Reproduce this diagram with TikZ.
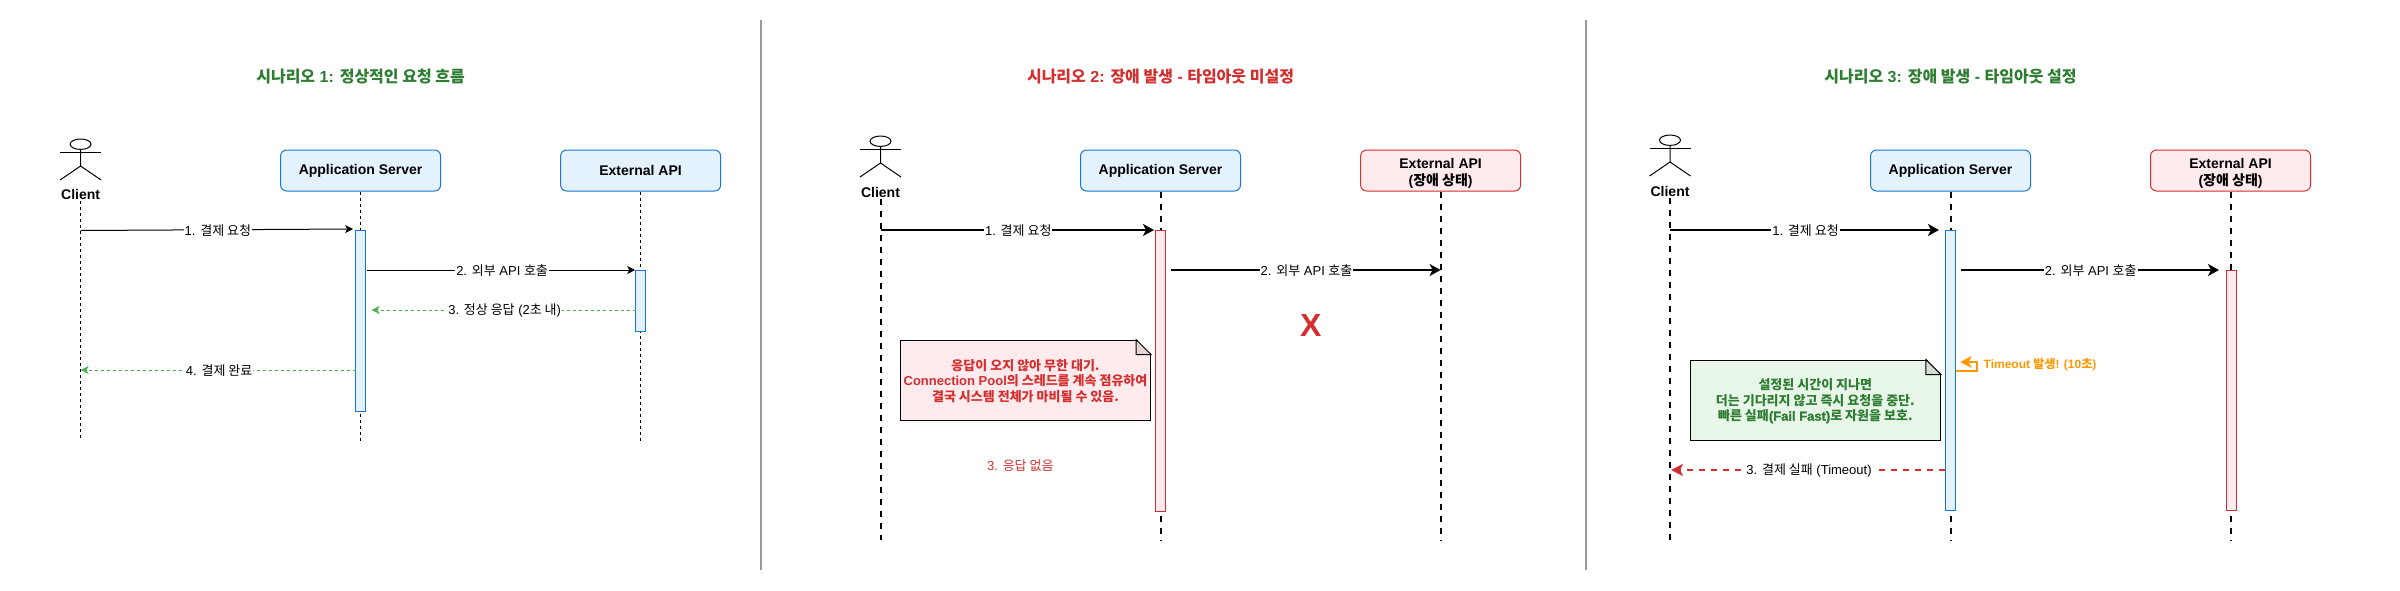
\documentclass[tikz,border=0pt]{standalone}
\usepackage{fontspec}
\usepackage{tikz}
\usetikzlibrary{arrows.meta}
\setmainfont{Liberation Sans}
\newfontfamily\krfont{Noto Sans CJK KR}
\newcommand{\kr}[1]{{\krfont #1}}
\newcommand{\heavy}[1]{{\addfontfeature{FakeBold=1.5}#1}}
\newcommand{\topgap}[1]{\rule{0pt}{#1pt}}
\definecolor{bluefill}{HTML}{E3F2FD}
\definecolor{bluecol}{HTML}{1976D2}
\definecolor{redfill}{HTML}{FFEBEE}
\definecolor{redcol}{HTML}{D32F2F}
\definecolor{greenfill}{HTML}{E8F5E9}
\definecolor{greencol}{HTML}{2E7D32}
\definecolor{okcol}{HTML}{4CAF50}
\definecolor{orangecol}{HTML}{FF9800}
\tikzset{
  pics/actor/.style={code={
    \draw[line width=1pt] (0,5.2) ellipse [x radius=10.5pt, y radius=5.2pt];
    \draw[line width=1pt] (-20.5,13.5) -- (20.5,13.5);
    \draw[line width=1pt] (0,10.4) -- (0,27) (-20.5,41) -- (0,27) -- (20.5,41);
  }},
  pics/fold/.style={code={
    \fill[white] (-15,-1) -- (1,-1) -- (1,15) -- cycle;
    \draw[line width=1pt, fill=#1] (-15,0) -- (0,15) -- (-15,15) -- cycle;
  }}
}
\begin{document}
\begin{tikzpicture}[x=1pt, y=-1pt,
  title/.style={font=\fontsize{16}{19}\selectfont\bfseries, text=#1},
  who/.style={font=\fontsize{14}{17}\selectfont\bfseries, inner sep=2pt},
  party/.style={draw=#1col, fill=#1fill, line width=1pt, rounded corners=6pt,
    minimum width=160pt, minimum height=41pt, align=center, inner sep=0pt,
    font=\fontsize{14}{17}\selectfont\bfseries},
  bar/.style={draw=#1col, fill=#1fill, line width=1pt, minimum width=10pt, inner sep=0pt},
  life/.style={line width=1pt, dash pattern=on 3pt off 3pt},
  lifeb/.style={line width=2pt, dash pattern=on 6pt off 6pt},
  msg/.style={-{Stealth[length=8pt, width=8pt, inset=2pt]}, line width=1pt},
  msgb/.style={-{Stealth[length=11pt, width=12pt, inset=3pt]}, line width=2pt},
  back/.style={-{Stealth[length=8pt, width=8pt, inset=2pt]}, line width=1pt, okcol,
    dash pattern=on 3pt off 3pt},
  fail/.style={-{Stealth[length=12pt, width=12pt, inset=3pt]}, line width=2pt, redcol,
    dash pattern=on 6pt off 6pt},
  lbl/.style={midway, xshift=1pt, yshift=-0.7pt, fill=white, text=black, inner sep=1pt,
    font=\fontsize{13}{15.5}\selectfont},
  notebox/.style={draw=black, fill=#1fill, line width=1pt, minimum width=250pt, minimum height=80pt,
    inner sep=0pt, align=center, text=#1col, font=\fontsize{13}{15.5}\selectfont\bfseries},
  sep/.style={line width=2pt, black!40}]
\useasboundingbox (0,0) rectangle (2400,590);
% separators
\coordinate (s1t) at (761,20);
\coordinate (s1b) at (761,570);
\coordinate (s2t) at (1586,20);
\coordinate (s2b) at (1586,570);
\draw[sep] (s1t) -- (s1b);
\draw[sep] (s2t) -- (s2b);

% scenario 1
\node[title=greencol] (t1) at (360.6,76.5) {\kr{시나리오} 1: \kr{정상적인 요청 흐름}};
\pic at (80.6,139) {actor};
\node[who] (c1) at (80.6,194) {Client};
\node[party=blue] (a1) at (360.6,170.5) {Application Server};
\node[party=blue] (e1) at (640.6,170.5) {External API};
\coordinate (c1e) at (80.6,441);
\coordinate (a1e) at (360.6,441);
\coordinate (e1e) at (640.6,441);
\draw[life] (c1) -- (c1e);
\draw[life] (a1) -- (a1e);
\draw[life] (e1) -- (e1e);
\node[bar=blue, minimum height=181pt] (a1b) at (360.6,320.5) {};
\node[bar=blue, minimum height=61pt] (e1b) at (640.6,300.5) {};
\coordinate (m1a) at (80.6,230.5);
\coordinate (m1b) at (353.2,229);
\coordinate (m2a) at (367,270);
\coordinate (m2b) at (635.2,270);
\coordinate (m3a) at (635.7,310);
\coordinate (m3b) at (371.6,310);
\coordinate (m4a) at (355.7,370);
\coordinate (m4b) at (80.6,370);
\draw[msg] (m1a) -- (m1b) node[lbl] {1. \kr{결제 요청}};
\draw[msg] (m2a) -- (m2b) node[lbl] {2. \kr{외부} API \kr{호출}};
\draw[back] (m3a) -- (m3b) node[lbl] {3. \kr{정상 응답} (2\kr{초 내})};
\draw[back] (m4a) -- (m4b) node[lbl] {4. \kr{결제 완료}};

% scenario 2
\node[title=redcol] (t2) at (1160.5,76.5) {\kr{시나리오} 2: \kr{장애 발생} - \kr{타임아웃 미설정}};
\pic at (880.5,136) {actor};
\node[who] (c2) at (880.5,192) {Client};
\node[party=blue] (a2) at (1160.5,170.5) {Application Server};
\node[party=red] (e2) at (1440.6,170.5) {\topgap{16}External API\\(\kr{장애 상태})};
\coordinate (c2e) at (880.5,540);
\coordinate (a2e) at (1160.5,540);
\coordinate (e2e) at (1440.6,540);
\draw[lifeb] (c2) -- (c2e);
\draw[lifeb] (a2) -- (a2e);
\draw[lifeb] (e2) -- (e2e);
\node[bar=red, minimum height=281pt] (a2b) at (1160.5,370.5) {};
\coordinate (n1a) at (880.5,230);
\coordinate (n1b) at (1154,230);
\coordinate (n2a) at (1170.5,270);
\coordinate (n2b) at (1440.6,270);
\draw[msgb] (n1a) -- (n1b) node[lbl] {1. \kr{결제 요청}};
\draw[msgb] (n2a) -- (n2b) node[lbl] {2. \kr{외부} API \kr{호출}};
\node[text=redcol, font=\fontsize{32}{38}\selectfont\bfseries] (x2) at (1310.8,325) {X};
\node[notebox=red] (n2) at (1025.5,380) {\topgap{13}\kr{응답이 오지 않아 무한 대기.}\\
  Connection Pool\kr{의 스레드를 계속 점유하여}\\
  \kr{결국 시스템 전체가 마비될 수 있음.}};
\pic at (n2.north east) {fold=redfill!90!black};
\node[text=redcol, font=\fontsize{13}{15.5}\selectfont] (r2) at (1020.3,466) {3. \kr{응답 없음}};

% scenario 3
\node[title=greencol] (t3) at (1950.5,76.5) {\kr{시나리오} 3: \kr{장애 발생} - \kr{타임아웃 설정}};
\pic at (1670,135) {actor};
\node[who] (c3) at (1670,191) {Client};
\node[party=blue] (a3) at (1950.5,170.5) {Application Server};
\node[party=red] (e3) at (2230.5,170.5) {\topgap{16}External API\\(\kr{장애 상태})};
\coordinate (c3e) at (1670,540);
\coordinate (a3e) at (1950.5,540);
\coordinate (e3e) at (2230.5,540);
\draw[lifeb] (c3) -- (c3e);
\draw[lifeb] (a3) -- (a3e);
\draw[lifeb] (e3) -- (e3e);
\node[bar=blue, minimum height=280pt] (a3b) at (1950.5,370) {};
\node[bar=red, minimum height=240pt] (e3b) at (2231.5,390) {};
\coordinate (k1a) at (1670,230);
\coordinate (k1b) at (1939,230);
\coordinate (k2a) at (1960.5,270);
\coordinate (k2b) at (2219,270);
\coordinate (k3a) at (1945,470);
\coordinate (k3b) at (1671,470);
\draw[msgb] (k1a) -- (k1b) node[lbl] {1. \kr{결제 요청}};
\draw[msgb] (k2a) -- (k2b) node[lbl] {2. \kr{외부} API \kr{호출}};
\draw[fail] (k3a) -- (k3b) node[lbl] {3. \kr{결제 실패} (Timeout)};
\node[notebox=green] (n3) at (1815.3,400) {\topgap{13}\kr{설정된 시간이 지나면}\\
  \kr{더는 기다리지 않고 즉시 요청을 중단.}\\
  {\heavy{\kr{빠른 실패}}}\heavy{(Fail Fast)}\kr{로 자원을 보호.}};
\pic at (n3.north east) {fold=greenfill!90!black};
% timeout self call
\coordinate (o1) at (1955.5,370.7);
\coordinate (o2) at (1976.5,370.7);
\coordinate (o3) at (1976.5,362);
\coordinate (o4) at (1960.5,362);
\draw[-{Stealth[length=11pt, width=12pt, inset=3pt]}, line width=2pt, orangecol]
  (o1) -- (o2) -- (o3) -- (o4);
\node[text=orangecol, font=\fontsize{12}{14}\selectfont\bfseries] (o5) at (2040,365) {Timeout \kr{발생}! (10\kr{초})};
\end{tikzpicture}
\end{document}
